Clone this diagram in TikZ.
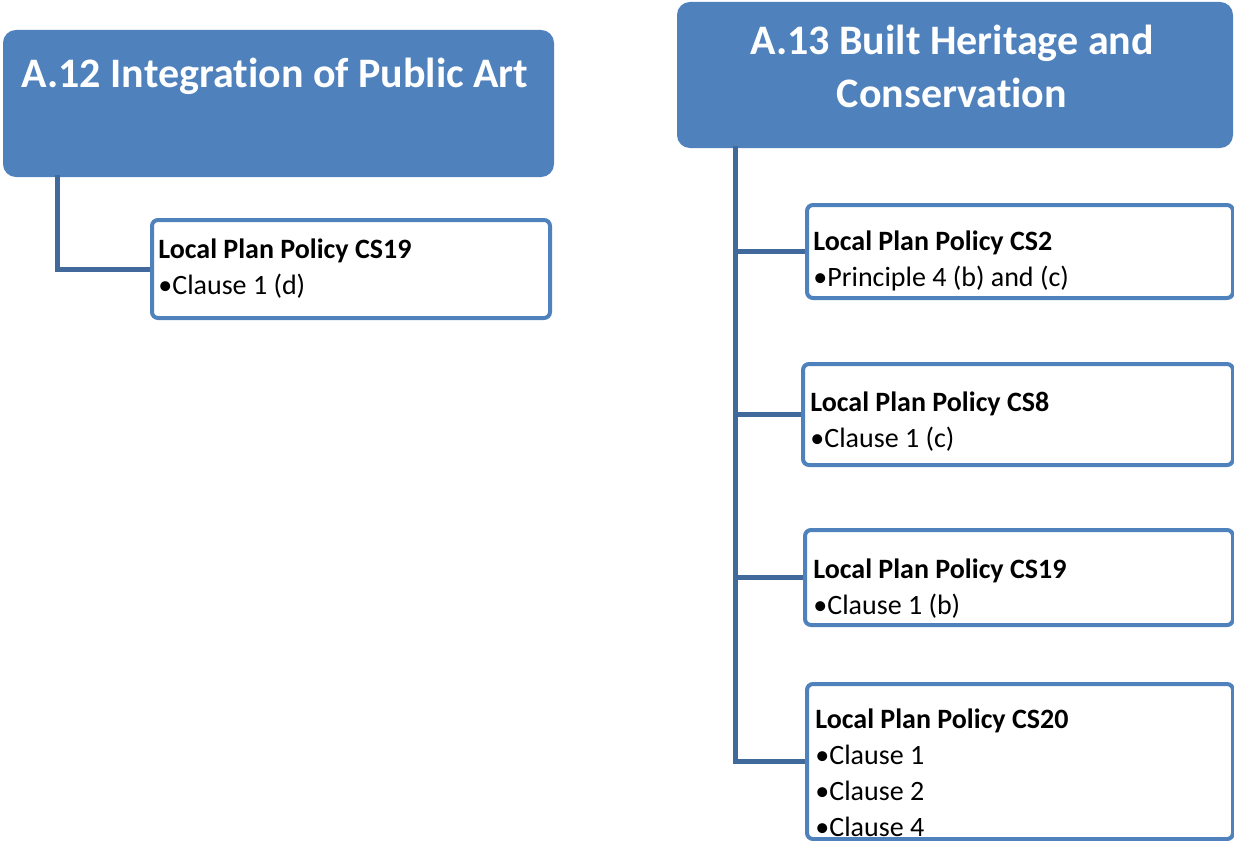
\documentclass[tikz,border=0pt]{standalone}
\usepackage{fontspec}
\setmainfont{Carlito}[Ligatures=NoCommon]
\definecolor{hdblue}{HTML}{4F81BD}
\definecolor{lnblue}{HTML}{41699B}
\begin{document}
\begin{tikzpicture}[x=0.5pt,y=-0.5pt,
  head/.style={draw=hdblue,fill=hdblue,line width=1pt,rounded corners=6pt,anchor=north west,inner sep=0pt},
  policy/.style={draw=hdblue,fill=white,line width=2pt,rounded corners=3pt,anchor=north west,inner sep=0pt},
  ttl/.style={anchor=base,inner sep=0pt,text=white,align=flush center,font=\bfseries\fontsize{21}{26}\selectfont},
  txt/.style={anchor=base west,inner sep=0pt,text width=200pt,align=flush left,font=\fontsize{14}{18}\selectfont},
  conn/.style={draw=lnblue,line width=2.5pt}]
\useasboundingbox (0,0) rectangle (1234,840);
% headings
\node[head,minimum width=274.5pt,minimum height=72.5pt] (a12) at (3,30) {};
\node[head,minimum width=277pt,minimum height=72pt] (a13) at (677,2) {};
\node[ttl] (a12t) at (275,88) {A.12 Integration of Public Art};
\node[ttl,text width=270pt] (a13t) at (952,55) {A.13 Built Heritage and\\Conservation};
% policy boxes
\node[policy,minimum width=199pt,minimum height=49pt] (p12) at (150,218) {};
\node[policy,minimum width=213pt,minimum height=46.5pt] (cs2) at (805,203) {};
\node[policy,minimum width=215pt,minimum height=50.5pt] (cs8) at (801,362) {};
\node[policy,minimum width=214pt,minimum height=47.5pt] (cs19) at (803,528) {};
\node[policy,minimum width=213pt,minimum height=77.5pt] (cs20) at (805,682) {};
% connectors
\coordinate (t12) at (57,175);
\coordinate (t13) at (735,146);
\path[conn] (t12) |- (p12.west);
\path[conn] (t13) |- (cs20.west);
\foreach \n in {cs2,cs8,cs19}
  \path[conn] (t13 |- \n.west) -- (\n.west);
% texts
\node[txt] (p12t) at (158,258) {\textbf{Local Plan Policy CS19}\\•Clause 1 (d)};
\node[txt] (cs2t) at (813,250) {\textbf{Local Plan Policy CS2}\\•Principle 4 (b) and (c)};
\node[txt] (cs8t) at (810,411) {\textbf{Local Plan Policy CS8}\\•Clause 1 (c)};
\node[txt] (cs19t) at (813,578) {\textbf{Local Plan Policy CS19}\\•Clause 1 (b)};
\node[txt] (cs20t) at (815,728) {\textbf{Local Plan Policy CS20}\\•Clause 1\\•Clause 2\\•Clause 4};
\end{tikzpicture}
\end{document}
